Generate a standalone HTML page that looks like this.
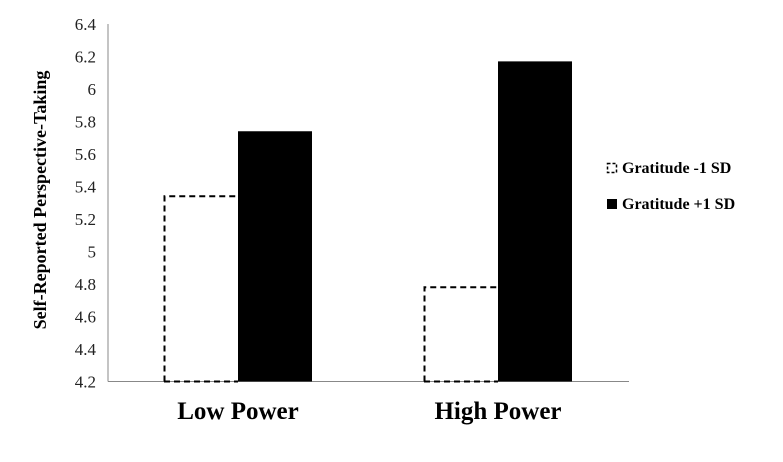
<!DOCTYPE html>
<html><head><meta charset="utf-8"><style>
body{margin:0;background:#fff}
svg text{font-family:"Liberation Serif",serif}
</style></head><body>
<svg width="783" height="457" id="c">
<line x1="108" y1="24" x2="108" y2="381.5" stroke="#888" stroke-width="1"/>
<line x1="108" y1="381.5" x2="629" y2="381.5" stroke="#888" stroke-width="1"/>
<text x="46" y="200" transform="rotate(-90 46 200)" text-anchor="middle" font-size="18" font-weight="bold">Self-Reported Perspective-Taking</text>
<g id="ticks"></g><g id="bars"></g><g id="xl"></g>
<g>
<rect x="607.5" y="163.5" width="9" height="9" fill="#fff" stroke="#000" stroke-width="1.5" stroke-dasharray="3,2"/>
<text x="622" y="173" font-size="16" font-weight="bold">Gratitude -1 SD</text>
<rect x="607" y="199" width="10" height="10" fill="#000"/>
<text x="622" y="209" font-size="16" font-weight="bold">Gratitude +1 SD</text>
</g>
</svg>
<script>
const categories=["Low Power","High Power"];
const gratitudeMinus=[5.34,4.78];
const gratitudePlus=[5.74,6.17];
const yTicks=[4.2,4.4,4.6,4.8,5,5.2,5.4,5.6,5.8,6,6.2,6.4];
const ns="http://www.w3.org/2000/svg";
const y0=381.5,y1=24,vmin=4.2,vmax=6.4;
function y(v){return y0-(v-vmin)/(vmax-vmin)*(y0-y1);}
const xL=108,xR=628,bw=74;
function xc(i){return xL+(xR-xL)/categories.length*(i+0.5);}
const tg=document.getElementById('ticks');
yTicks.forEach(t=>{const e=document.createElementNS(ns,'text');
e.setAttribute('x',96);e.setAttribute('y',y(t)+6);e.setAttribute('text-anchor','end');e.setAttribute('font-size','17');e.setAttribute('fill','#222');


e.textContent=String(t);tg.appendChild(e);});
const bg=document.getElementById('bars'),xg=document.getElementById('xl');
categories.forEach((c,i)=>{
 const cx=xc(i);
 const r1=document.createElementNS(ns,'path');
 const top1=y(gratitudeMinus[i]);
 r1.setAttribute('d',`M${cx-bw+0.5},${y0} L${cx-bw+0.5},${top1} L${cx},${top1} M${cx-bw},${y0} L${cx},${y0}`);
 r1.setAttribute('fill','none');r1.setAttribute('stroke','#000');r1.setAttribute('stroke-width','2');r1.setAttribute('stroke-dasharray','6,4');
 
 
 bg.appendChild(r1);
 const r2=document.createElementNS(ns,'rect');
 const top2=y(gratitudePlus[i]);
 r2.setAttribute('x',cx);r2.setAttribute('y',top2);r2.setAttribute('width',bw);r2.setAttribute('height',y0-top2);r2.setAttribute('fill','#000');
 
 
 bg.appendChild(r2);
 const t=document.createElementNS(ns,'text');
 t.setAttribute('x',cx);t.setAttribute('y',419);t.setAttribute('text-anchor','middle');t.setAttribute('font-size','25');t.setAttribute('font-weight','bold');
 
 
 t.textContent=c;xg.appendChild(t);
});
</script>
</body></html>
